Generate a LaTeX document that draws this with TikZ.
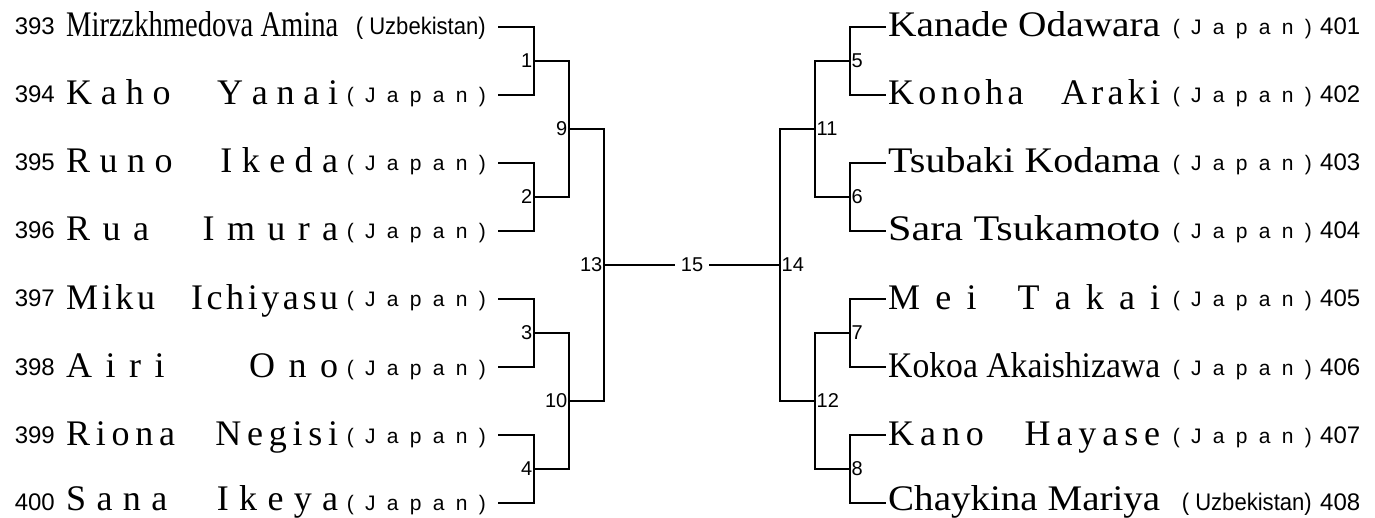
\documentclass[tikz,border=0pt]{standalone}
\usepackage{fontspec}
\setmainfont{Liberation Serif}
\setsansfont{Liberation Sans}
\usepackage{graphicx}
\newcommand\nm[1]{\resizebox{272pt}{\height}{#1}}
\newcommand\spc[1]{\makebox[272pt][s]{#1}}
\def\h{\hfill}
\def\w{\hfill\hspace{0.8em}\hfill}
\newcommand\jp{\makebox[139pt][s]{(\hfill J\hfill a\hfill p\hfill a\hfill n\hfill)}}
\newcommand\uz{\resizebox{130pt}{\height}{\fontsize{24}{24}\selectfont( Uzbekistan)}}
\begin{document}
\begin{tikzpicture}[x=1pt,y=-1pt,
  pname/.style={font=\fontsize{36}{37}\selectfont, inner sep=0pt, anchor=base west},
  cty/.style={font=\sffamily\fontsize{21}{22}\selectfont, inner sep=0pt, anchor=base east},
  pnum/.style={font=\sffamily\fontsize{24}{24}\selectfont, inner sep=0pt},
  lab/.style={font=\sffamily\fontsize{20}{20}\selectfont, inner sep=1.5pt},
  ln/.style={line width=1.8pt, line cap=rect}]
\useasboundingbox (0,0) rectangle (1375,518);
% ---------- left side players ----------
\node[pnum, anchor=base east] (n393) at (55,35) {393};
\node[pname] (a393) at (66,37) {\nm{Mirzzkhmedova Amina}};
\node[cty] (c393) at (486,35) {\uz};
\coordinate (s393) at (499,27);

\node[pnum, anchor=base east] (n394) at (55,103) {394};
\node[pname] (a394) at (66,105) {\spc{K\h a\h h\h o\w Y\h a\h n\h a\h i}};
\node[cty] (c394) at (486,103) {\jp};
\coordinate (s394) at (499,95);

\node[pnum, anchor=base east] (n395) at (55,171) {395};
\node[pname] (a395) at (66,173) {\spc{R\h u\h n\h o\w I\h k\h e\h d\h a}};
\node[cty] (c395) at (486,171) {\jp};
\coordinate (s395) at (499,163);

\node[pnum, anchor=base east] (n396) at (55,239) {396};
\node[pname] (a396) at (66,241) {\spc{R\h u\h a\w I\h m\h u\h r\h a}};
\node[cty] (c396) at (486,239) {\jp};
\coordinate (s396) at (499,231);

\node[pnum, anchor=base east] (n397) at (55,307) {397};
\node[pname] (a397) at (66,309) {\spc{M\h i\h k\h u\w I\h c\h h\h i\h y\h a\h s\h u}};
\node[cty] (c397) at (486,307) {\jp};
\coordinate (s397) at (499,299);

\node[pnum, anchor=base east] (n398) at (55,375) {398};
\node[pname] (a398) at (66,377) {\spc{A\h i\h r\h i\hfill\hspace{1.6em}\hfill O\h n\h o}};
\node[cty] (c398) at (486,375) {\jp};
\coordinate (s398) at (499,367);

\node[pnum, anchor=base east] (n399) at (55,443) {399};
\node[pname] (a399) at (66,445) {\spc{R\h i\h o\h n\h a\w N\h e\h g\h i\h s\h i}};
\node[cty] (c399) at (486,443) {\jp};
\coordinate (s399) at (499,435);

\node[pnum, anchor=base east] (n400) at (55,510) {400};
\node[pname] (a400) at (66,510) {\spc{S\h a\h n\h a\w I\h k\h e\h y\h a}};
\node[cty] (c400) at (486,510) {\jp};
\coordinate (s400) at (499,503);

% ---------- right side players ----------
\coordinate (s401) at (885,27);
\node[pname] (a401) at (888,37) {\nm{Kanade Odawara}};
\node[cty] (c401) at (1312,35) {\jp};
\node[pnum, anchor=base west] (n401) at (1320,35) {401};

\coordinate (s402) at (885,95);
\node[pname] (a402) at (888,105) {\spc{K\h o\h n\h o\h h\h a\w A\h r\h a\h k\h i}};
\node[cty] (c402) at (1312,103) {\jp};
\node[pnum, anchor=base west] (n402) at (1320,103) {402};

\coordinate (s403) at (885,163);
\node[pname] (a403) at (888,173) {\nm{Tsubaki Kodama}};
\node[cty] (c403) at (1312,171) {\jp};
\node[pnum, anchor=base west] (n403) at (1320,171) {403};

\coordinate (s404) at (885,231);
\node[pname] (a404) at (888,241) {\nm{Sara\ Tsukamoto}};
\node[cty] (c404) at (1312,239) {\jp};
\node[pnum, anchor=base west] (n404) at (1320,239) {404};

\coordinate (s405) at (885,299);
\node[pname] (a405) at (888,309) {\spc{M\h e\h i\hfill\hspace{0.3em}\hfill T\h a\h k\h a\h i}};
\node[cty] (c405) at (1312,307) {\jp};
\node[pnum, anchor=base west] (n405) at (1320,307) {405};

\coordinate (s406) at (885,367);
\node[pname] (a406) at (888,377) {\nm{Kokoa Akaishizawa}};
\node[cty] (c406) at (1312,375) {\jp};
\node[pnum, anchor=base west] (n406) at (1320,375) {406};

\coordinate (s407) at (885,435);
\node[pname] (a407) at (888,445) {\spc{K\h a\h n\h o\w H\h a\h y\h a\h s\h e}};
\node[cty] (c407) at (1312,443) {\jp};
\node[pnum, anchor=base west] (n407) at (1320,443) {407};

\coordinate (s408) at (885,503);
\node[pname] (a408) at (888,510) {\nm{Chaykina Mariya}};
\node[cty] (c408) at (1312,510) {\uz};
\node[pnum, anchor=base west] (n408) at (1320,510) {408};

% ---------- junctions ----------
\coordinate (m1) at (534,61);
\coordinate (m2) at (534,197);
\coordinate (m3) at (534,333);
\coordinate (m4) at (534,469);
\coordinate (m9) at (569,129);
\coordinate (m10) at (569,401);
\coordinate (m13) at (604,265);
\coordinate (m5) at (850,61);
\coordinate (m6) at (850,197);
\coordinate (m7) at (850,333);
\coordinate (m8) at (850,469);
\coordinate (m11) at (815,129);
\coordinate (m12) at (815,401);
\coordinate (m14) at (780,265);

% ---------- match labels ----------
\node[lab, anchor=east] (l1) at (m1) {1};
\node[lab, anchor=east] (l2) at (m2) {2};
\node[lab, anchor=east] (l3) at (m3) {3};
\node[lab, anchor=east] (l4) at (m4) {4};
\node[lab, anchor=east] (l9) at (m9) {9};
\node[lab, anchor=east] (l10) at (m10) {10};
\node[lab, anchor=east] (l13) at (m13) {13};
\node[lab, anchor=west] (l5) at (m5) {5};
\node[lab, anchor=west] (l6) at (m6) {6};
\node[lab, anchor=west] (l7) at (m7) {7};
\node[lab, anchor=west] (l8) at (m8) {8};
\node[lab, anchor=west] (l11) at (m11) {11};
\node[lab, anchor=west] (l12) at (m12) {12};
\node[lab, anchor=west] (l14) at (m14) {14};
\node[lab, inner xsep=7pt] (f15) at (692,265) {15};

% ---------- connectors ----------
\draw[ln] (s393) -| (m1); \draw[ln] (s394) -| (m1);
\draw[ln] (s395) -| (m2); \draw[ln] (s396) -| (m2);
\draw[ln] (s397) -| (m3); \draw[ln] (s398) -| (m3);
\draw[ln] (s399) -| (m4); \draw[ln] (s400) -| (m4);
\draw[ln] (m1) -| (m9); \draw[ln] (m2) -| (m9);
\draw[ln] (m3) -| (m10); \draw[ln] (m4) -| (m10);
\draw[ln] (m9) -| (m13); \draw[ln] (m10) -| (m13);
\draw[ln] (s401) -| (m5); \draw[ln] (s402) -| (m5);
\draw[ln] (s403) -| (m6); \draw[ln] (s404) -| (m6);
\draw[ln] (s405) -| (m7); \draw[ln] (s406) -| (m7);
\draw[ln] (s407) -| (m8); \draw[ln] (s408) -| (m8);
\draw[ln] (m5) -| (m11); \draw[ln] (m6) -| (m11);
\draw[ln] (m7) -| (m12); \draw[ln] (m8) -| (m12);
\draw[ln] (m11) -| (m14); \draw[ln] (m12) -| (m14);
\draw[ln] (m13) -- (f15.west);
\draw[ln] (f15.east) -- (m14);
\end{tikzpicture}
\end{document}
